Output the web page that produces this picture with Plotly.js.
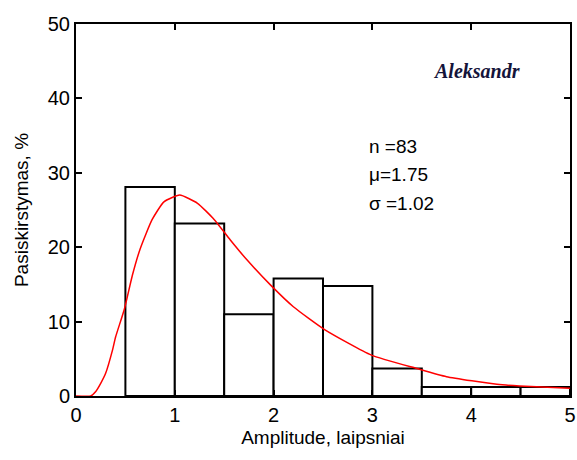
<!DOCTYPE html>
<html>
<head>
<meta charset="utf-8">
<script src="https://cdn.plot.ly/plotly-3.0.1.min.js"></script>
<style>
  html, body { margin: 0; padding: 0; background: #fff; }
  #chart { width: 577px; height: 460px; }
</style>
</head>
<body>
<div id="chart"></div>
<script>
// Histogram bins (centres, width 0.5) and percentages
const binCenters = [0.75, 1.25, 1.75, 2.25, 2.75, 3.25, 3.75, 4.25, 4.75];
const binPercent = [28.1, 23.2, 11.0, 15.8, 14.8, 3.7, 1.2, 1.2, 1.2];

// Fitted density curve, scaled to percent per bin
const fitX = [0, 0.15, 0.20, 0.25, 0.30, 0.37, 0.40, 0.49, 0.57, 0.65, 0.77, 0.89, 1.05, 1.23, 1.40, 1.56, 1.73, 1.97, 2.20, 2.52, 2.99, 3.45, 3.75, 4.26, 4.49, 5.0];
const fitY = [0, 0, 0.6, 1.7, 3.05, 6.2, 7.9, 11.7, 16.2, 19.8, 23.7, 26.1, 27.0, 25.9, 23.7, 21.0, 18.3, 14.9, 12.0, 8.9, 5.5, 3.7, 2.6, 1.57, 1.34, 1.03];

const xTicks = [0, 1, 2, 3, 4, 5];
const yTicks = [0, 10, 20, 30, 40, 50];

const statsLines = ['n =83', 'μ=1.75', 'σ =1.02'];
const subject = 'Aleksandr';

const font = 'Liberation Sans, Arial, sans-serif';

const traces = [
  {
    type: 'bar',
    x: binCenters,
    y: binPercent,
    width: 0.5,
    marker: { color: '#ffffff', line: { color: '#000000', width: 2 } },
    hoverinfo: 'x+y'
  },
  {
    type: 'scatter',
    mode: 'lines',
    x: fitX,
    y: fitY,
    line: { color: '#ff0000', width: 1.5, shape: 'spline', smoothing: 0.5 },
    hoverinfo: 'x+y'
  }
];

const axisCommon = {
  showline: true,
  mirror: 'ticks',
  linecolor: '#000',
  linewidth: 2,
  ticks: 'inside',
  ticklen: 6,
  tickwidth: 2,
  tickcolor: '#000',
  showgrid: false,
  zeroline: false,
  ticklabeloverflow: 'allow',
  tickfont: { family: font, size: 20, color: '#000' }
};

const annotations = [
  {
    text: '<b><i>' + subject + '</i></b>',
    xref: 'paper', yref: 'paper',
    x: 0.81, y: 0.873, xanchor: 'center', yanchor: 'middle',
    showarrow: false,
    font: { family: 'Liberation Serif, Times New Roman, serif', size: 20, color: '#14143a' }
  }
];
statsLines.forEach((t, i) => {
  annotations.push({
    text: t,
    xref: 'x', yref: 'y',
    x: 2.95, y: 33.6 - i * 3.85,
    xanchor: 'left', yanchor: 'middle',
    showarrow: false,
    font: { family: font, size: 19, color: '#000' }
  });
});

const layout = {
  width: 577,
  height: 460,
  margin: { l: 76, r: 7, t: 24, b: 64 },
  paper_bgcolor: '#fff',
  plot_bgcolor: '#fff',
  showlegend: false,
  bargap: 0,
  xaxis: Object.assign({}, axisCommon, {
    range: [0, 5],
    tickvals: xTicks,
    title: { text: 'Amplitude, laipsniai', font: { family: font, size: 19, color: '#000' }, standoff: 6 }
  }),
  yaxis: Object.assign({}, axisCommon, {
    range: [0, 50],
    tickvals: yTicks,
    title: { text: 'Pasiskirstymas, %', font: { family: font, size: 19, color: '#000' }, standoff: 14 }
  }),
  annotations: annotations
};

Plotly.newPlot('chart', traces, layout, { displayModeBar: false, staticPlot: true });
</script>
</body>
</html>
